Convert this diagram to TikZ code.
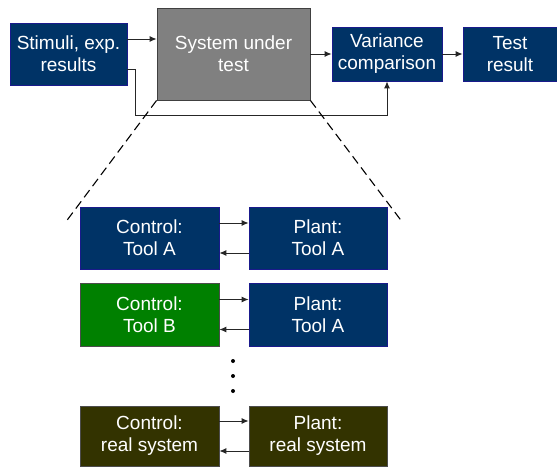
\documentclass[tikz,border=0pt]{standalone}
\usepackage{fontspec}
\setmainfont{Liberation Sans}
\usetikzlibrary{arrows.meta}
\definecolor{navy}{HTML}{003366}
\definecolor{navyr}{HTML}{1A1A8C}
\definecolor{grau}{HTML}{808080}
\definecolor{dgrau}{HTML}{404040}
\definecolor{gruen}{HTML}{008000}
\definecolor{oliv}{HTML}{333300}
\tikzset{
  block/.style={draw=navyr,fill=navy,text=white,line width=0.8pt,align=center,inner sep=0pt,font=\fontsize{19}{22}\selectfont},
  grblock/.style={block,draw=dgrau,fill=grau},
  gnblock/.style={block,draw=black!70,fill=gruen},
  olblock/.style={block,draw=black!70,fill=oliv},
  pfeil/.style={-{Latex[length=7pt,width=6pt]},line width=0.9pt,black!85},
  hilf/.style={dash pattern=on 9pt off 5pt,line width=1.1pt},
}
\begin{document}
\begin{tikzpicture}[x=1pt,y=-1pt]
  \useasboundingbox (0,0) rectangle (557,466);
  % top chain
  \node[block,minimum width=117pt,minimum height=62pt] (stim) at (68.5,54) {Stimuli, exp.\\results};
  \node[grblock,minimum width=153pt,minimum height=92pt] (sut) at (233.5,54) {System under\\test};
  \node[block,minimum width=110pt,minimum height=54pt] (var) at (387,54) {Variance\\comparison};
  \node[block,minimum width=94pt,minimum height=54pt] (res) at (510,54) {Test\\result};
  \coordinate (knick) at (135,115);
  \draw[pfeil] ([yshift=15pt]stim.east) -- ([yshift=15pt]sut.west);
  \draw[pfeil] (sut.east) -- (var.west);
  \draw[pfeil] (var.east) -- (res.west);
  \draw[pfeil] ([yshift=-15pt]stim.east) -| (knick) -| (var.south);
  % zoom lines
  \coordinate (lend) at (65,223);
  \coordinate (rend) at (403,223);
  \draw[hilf] (sut.south west) -- (lend);
  \draw[hilf] (sut.south east) -- (rend);
  % variants
  \node[block,minimum width=139pt,minimum height=62pt] (c1) at (149.5,238) {Control:\\Tool A};
  \node[block,minimum width=138pt,minimum height=62pt] (p1) at (318,238) {Plant:\\Tool A};
  \node[gnblock,minimum width=139pt,minimum height=63pt] (c2) at (149.5,314.5) {Control:\\Tool B};
  \node[block,minimum width=138pt,minimum height=63pt] (p2) at (318,314.5) {Plant:\\Tool A};
  \node[olblock,minimum width=139pt,minimum height=60pt] (c3) at (149.5,436) {Control:\\real system};
  \node[olblock,minimum width=138pt,minimum height=60pt] (p3) at (318,436) {Plant:\\real system};
  \foreach \i in {1,2,3} {
    \draw[pfeil] ([yshift=15pt]c\i.east) -- ([yshift=15pt]p\i.west);
    \draw[pfeil] ([yshift=-15pt]p\i.west) -- ([yshift=-15pt]c\i.east);
  }
  \foreach \y in {361,376,391}
    \fill (233,\y) circle (2pt);
\end{tikzpicture}
\end{document}
